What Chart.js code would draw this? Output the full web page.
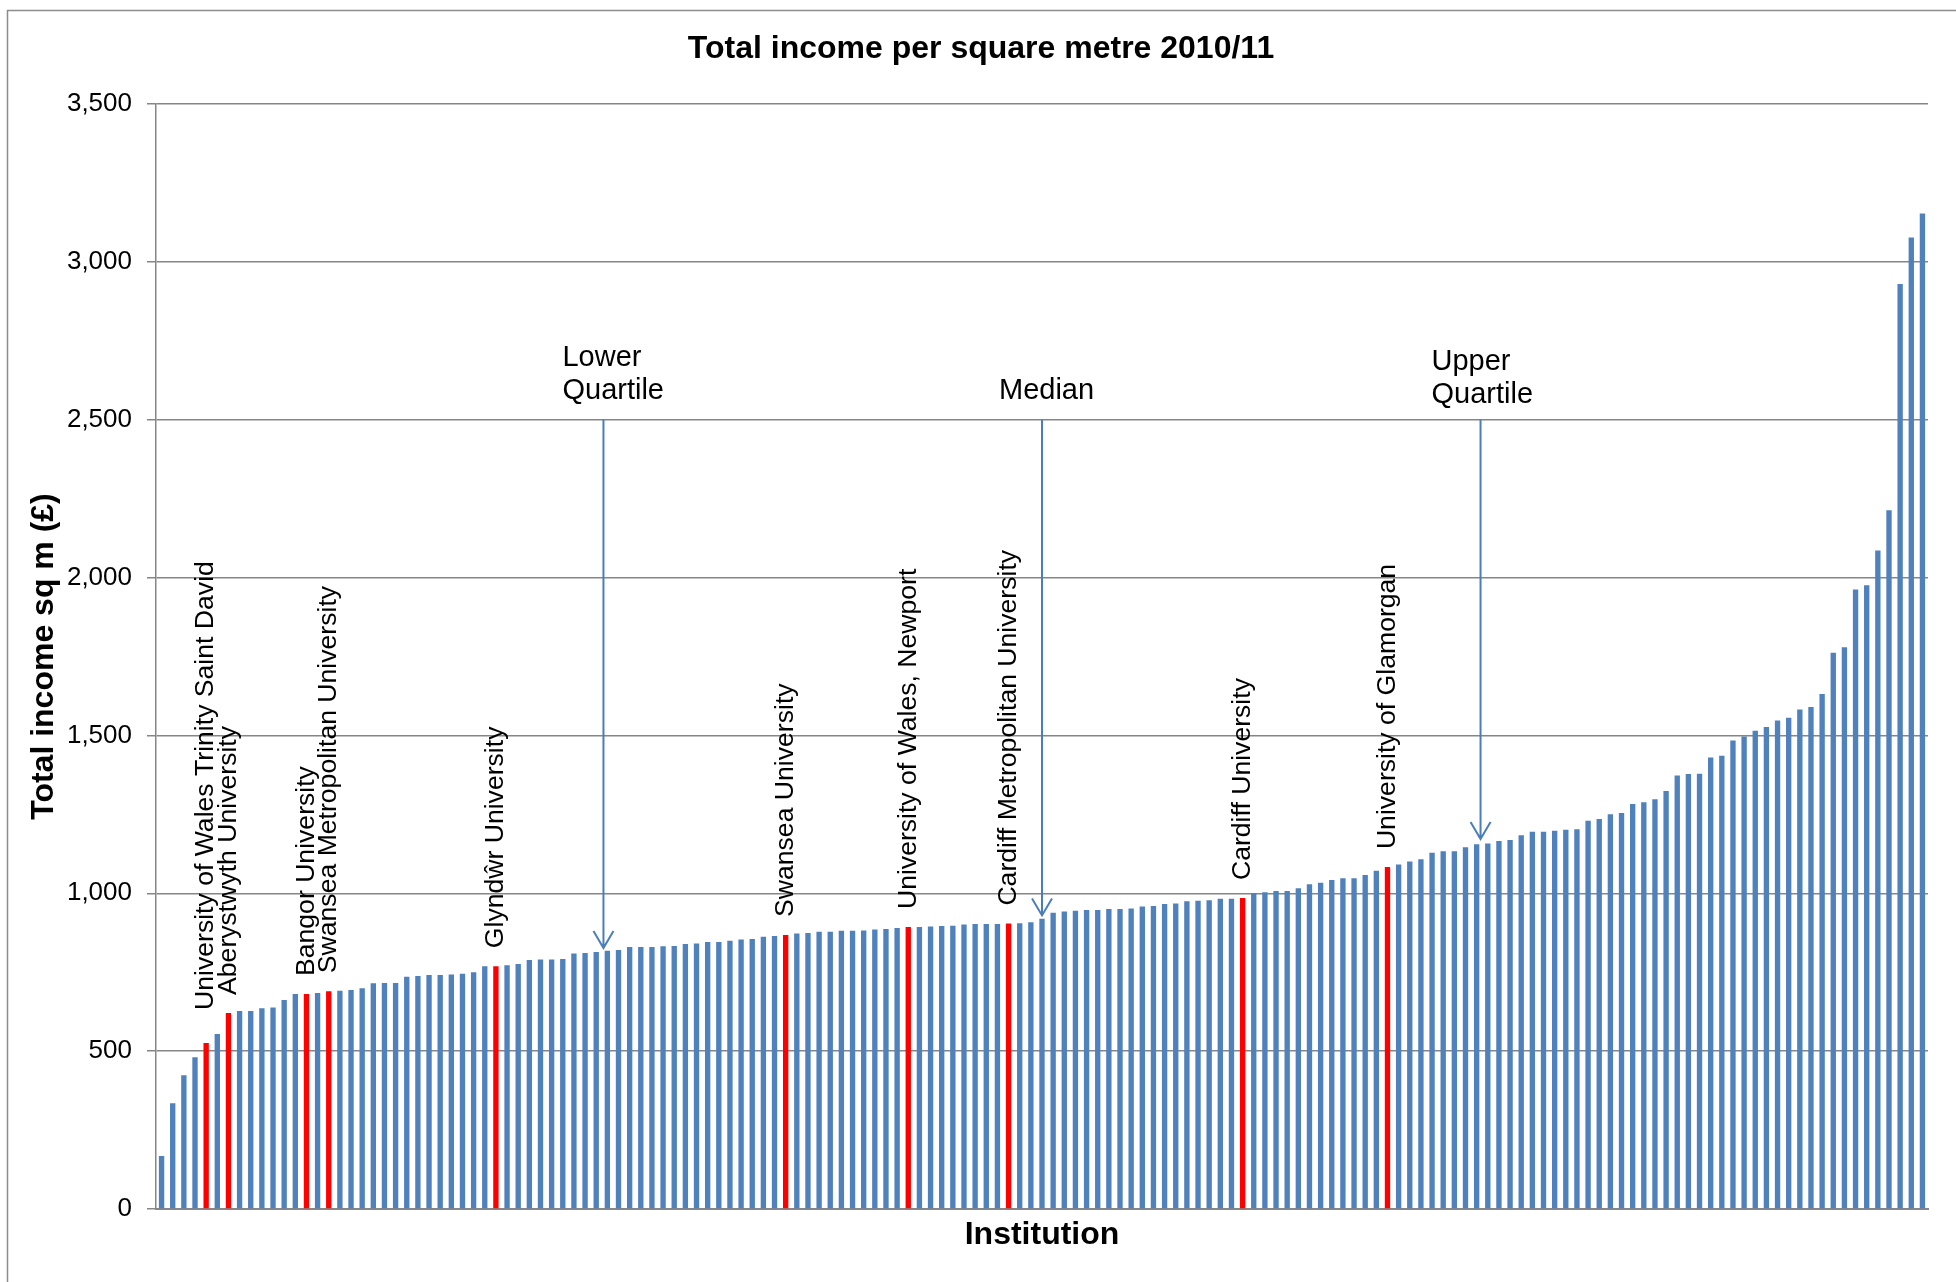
<!DOCTYPE html>
<html>
<head>
<meta charset="utf-8">
<script src="https://cdn.jsdelivr.net/npm/chart.js@4.4.0/dist/chart.umd.min.js"></script>
<style>
html, body { margin: 0; padding: 0; background: #fff; }
canvas { display: block; }
</style>
</head>
<body>
<canvas id="c" width="1956" height="1282"></canvas>
<script>
// Total income per square metre 2010/11, sorted ascending (one bar per institution)
const incomePerSqm = [
  168, 335, 424, 481, 526, 554, 621, 627, 627, 636,
  638, 662, 681, 681, 684, 690, 691, 694, 699, 715,
  716, 716, 736, 738, 741, 741, 743, 745, 750, 769,
  769, 772, 776, 789, 790, 790, 792, 809, 811, 814,
  818, 820, 830, 830, 830, 832, 833, 839, 841, 846,
  846, 850, 854, 855, 862, 865, 868, 873, 874, 878,
  878, 881, 881, 882, 885, 887, 890, 893, 893, 895,
  896, 897, 901, 903, 903, 903, 904, 905, 908, 919,
  938, 942, 945, 947, 947, 950, 950, 952, 958, 960,
  966, 968, 975, 976, 978, 983, 983, 985, 1001, 1003,
  1007, 1007, 1016, 1029, 1033, 1042, 1048, 1048, 1058, 1071,
  1083, 1091, 1101, 1108, 1128, 1133, 1133, 1146, 1155, 1158,
  1166, 1169, 1184, 1195, 1195, 1198, 1201, 1203, 1230, 1235,
  1250, 1254, 1283, 1288, 1298, 1324, 1373, 1378, 1379, 1430,
  1436, 1484, 1497, 1515, 1527, 1547, 1556, 1582, 1590, 1631,
  1762, 1779, 1962, 1976, 2086, 2213, 2930, 3077, 3153
];

// Welsh institutions (highlighted in red) and their bar positions
const welshIndex = [4, 6, 13, 15, 30, 56, 67, 76, 97, 110];
const welshNames = [
  'University of Wales Trinity Saint David',
  'Aberystwyth University',
  'Bangor University',
  'Swansea Metropolitan University',
  'Glyndŵr University',
  'Swansea University',
  'University of Wales, Newport',
  'Cardiff Metropolitan University',
  'Cardiff University',
  'University of Glamorgan'
];

const yTicks = [0, 500, 1000, 1500, 2000, 2500, 3000, 3500];

// Quartile / median markers (position on the category axis, arrow start and end values)
const markerNames = [['Lower', 'Quartile'], ['Median'], ['Upper', 'Quartile']];
const markerIndex = [39.65, 79, 118.35];
const markerFrom = [2500, 2500, 2500];
const markerTo = [827, 930, 1172];

const categories = incomePerSqm.map((v, i) => {
  const k = welshIndex.indexOf(i);
  return k >= 0 ? welshNames[k] : 'Institution ' + (i + 1);
});
const barColors = incomePerSqm.map((v, i) => welshIndex.includes(i) ? '#FF0000' : '#4F81BD');

const FONT = '"Liberation Sans", Arial, Helvetica, sans-serif';

const decor = {
  id: 'decor',
  beforeDraw(chart) {
    const ctx = chart.ctx;
    ctx.save();
    ctx.fillStyle = '#ffffff';
    ctx.fillRect(0, 0, chart.width, chart.height);
    ctx.strokeStyle = '#8c8c8c';
    ctx.lineWidth = 1.5;
    ctx.beginPath();
    ctx.moveTo(7.5, chart.height + 5);
    ctx.lineTo(7.5, 10.5);
    ctx.lineTo(chart.width + 5, 10.5);
    ctx.stroke();
    ctx.restore();
  },
  afterDatasetsDraw(chart) {
    const { ctx, scales: { x, y } } = chart;
    ctx.save();
    // rotated institution labels above the red bars
    ctx.font = '26.6px ' + FONT;
    ctx.fillStyle = '#000';
    ctx.textAlign = 'left';
    ctx.textBaseline = 'middle';
    welshIndex.forEach((idx, k) => {
      const px = x.getPixelForValue(idx);
      const lift = k === 0 ? 33 : 18;
      const py = y.getPixelForValue(incomePerSqm[idx]) - lift;
      ctx.save();
      ctx.translate(px, py);
      ctx.rotate(-Math.PI / 2);
      ctx.fillText(welshNames[k], 0, 0);
      ctx.restore();
    });
    // arrows with their captions
    const textDx = [-41, -43, -49];
    const textDy = [-29, -29, -25];
    const lineGap = 33;
    ctx.strokeStyle = '#4A7EBB';
    ctx.lineWidth = 2;
    markerIndex.forEach((mi, k) => {
      const px = x.getPixelForValue(mi);
      const y0 = y.getPixelForValue(markerFrom[k]);
      const y1 = y.getPixelForValue(markerTo[k]);
      ctx.beginPath();
      ctx.moveTo(px, y0);
      ctx.lineTo(px, y1);
      ctx.moveTo(px - 10, y1 - 17);
      ctx.lineTo(px, y1);
      ctx.lineTo(px + 10, y1 - 17);
      ctx.stroke();
      ctx.font = '29px ' + FONT;
      ctx.fillStyle = '#000';
      ctx.textAlign = 'left';
      ctx.textBaseline = 'middle';
      const lines = markerNames[k];
      lines.forEach((t, j) => {
        const ly = y0 + textDy[k] - (lines.length - 1 - j) * lineGap;
        ctx.fillText(t, px + textDx[k], ly);
      });
    });
    ctx.restore();
  }
};

new Chart(document.getElementById('c'), {
  type: 'bar',
  data: {
    labels: categories,
    datasets: [{
      data: incomePerSqm,
      backgroundColor: barColors,
      borderWidth: 0,
      barPercentage: 0.48,
      categoryPercentage: 1.0
    }]
  },
  options: {
    responsive: false,
    devicePixelRatio: 1,
    animation: false,
    layout: { padding: { left: 34, right: 28, top: 0, bottom: 0 } },
    plugins: {
      legend: { display: false },
      tooltip: { enabled: false },
      title: {
        display: true,
        text: 'Total income per square metre 2010/11',
        color: '#000',
        font: { family: FONT, size: 32, weight: 'bold' },
        padding: { top: 30, bottom: 35.6 }
      }
    },
    scales: {
      x: {
        ticks: { display: false },
        grid: { display: false, drawTicks: false },
        border: { display: true, color: '#868686', width: 2 },
        title: {
          display: true,
          text: 'Institution',
          color: '#000',
          font: { family: FONT, size: 32, weight: 'bold' },
          padding: { top: 0, bottom: 28 }
        },
        afterFit: s => { s.height = 73; }
      },
      y: {
        min: 0,
        max: 3500,
        afterBuildTicks: s => { s.ticks = yTicks.map(v => ({ value: v })); },
        ticks: {
          color: '#000',
          padding: 15,
          font: { family: FONT, size: 26 },
          callback: v => Number(v).toLocaleString('en-US')
        },
        grid: { color: '#868686', lineWidth: 1.5, tickLength: 9, drawTicks: true },
        border: { display: true, color: '#868686', width: 1.5 },
        title: {
          display: true,
          text: 'Total income sq m (£)',
          color: '#000',
          font: { family: FONT, size: 32, weight: 'bold' },
          padding: { top: -9, bottom: 0 }
        },
        afterFit: s => { s.width = 122; }
      }
    }
  },
  plugins: [decor]
});
</script>
</body>
</html>
